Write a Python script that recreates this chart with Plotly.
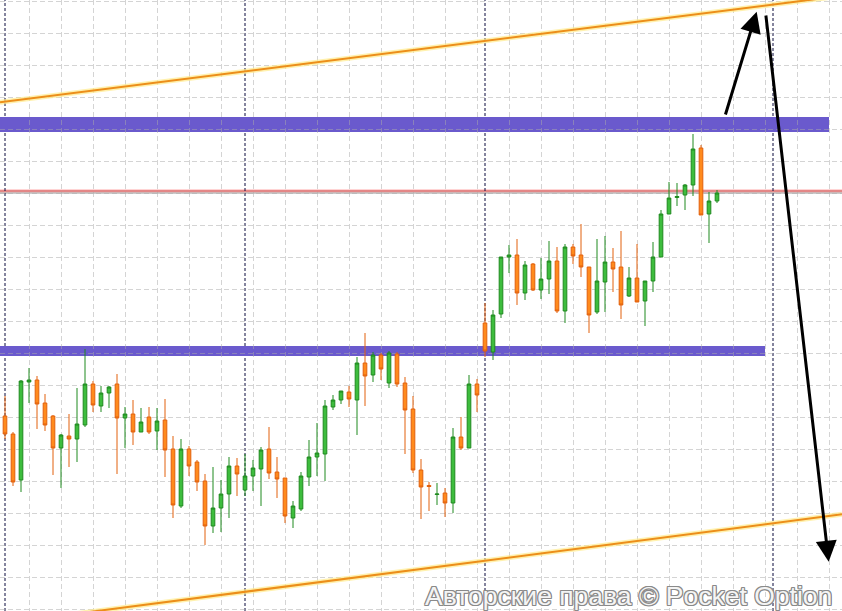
import plotly.graph_objects as go

# ---- candle data (index = bar number, values in chart price units) ----
bar_index = list(range(90))
open_ = [195, 177, 131, 229, 231, 208, 195, 163, 175, 172,
         186, 227, 205, 218, 227, 193, 197, 179, 194, 180,
         191, 162, 105, 162, 149, 130, 85, 103, 117, 145,
         121, 135, 142, 162, 139, 133, 93, 102, 134, 154,
         157, 204, 211, 219, 211, 248, 236, 256, 228, 257,
         228, 202, 141, 125.5, 116.5, 118, 108, 174, 163, 227,
         288, 259, 297, 354, 356, 318, 347, 321, 332, 350,
         300, 364, 356, 344, 299, 329, 349, 344, 315, 333,
         310, 330, 354, 397, 413.5, 416, 426, 463, 397, 410]
high_ = [215, 179, 231, 243, 235, 217, 196, 177, 197, 223,
         262, 230, 225, 225, 237, 204, 211, 203, 204, 203,
         212, 175, 172, 165, 151, 137, 144, 131, 154, 153,
         157, 151, 164, 184, 154, 133, 110, 139, 171, 188,
         211, 216, 220, 225, 254, 278, 259, 258, 260, 259,
         234, 215, 152, 129, 128, 123, 183, 194, 236, 232,
         308, 301, 354, 366, 372, 350, 348, 353, 370, 364,
         367, 367, 387, 344, 372, 375, 363, 380, 344, 367,
         330, 369, 401, 429, 428, 427, 477, 466, 419, 421]
low_ = [172, 125, 119, 208, 182, 180, 136, 123, 144, 149,
        184, 199, 199, 203, 137, 163, 166, 179, 177, 161,
        134, 93, 103, 135, 120, 66, 78, 79, 93, 115,
        115, 120, 105, 132, 113, 88, 83, 100, 125, 135,
        130, 201, 207, 204, 176, 205, 229, 231, 223, 224,
        157, 138, 92, 100, 106, 94, 98, 161, 163, 199,
        254, 251, 293, 338, 306, 311, 320, 312, 317, 298,
        288, 347, 334, 278, 297, 299, 319, 292, 314, 309,
        285, 319, 354, 397, 405, 401, 415, 396, 368, 408]
close_ = [177, 129, 230, 231, 207, 186, 163, 176, 172, 187,
          227, 206, 218, 224, 193, 197, 179, 189, 179, 190,
          161, 106, 162, 145, 129, 85, 103, 117, 145, 137,
          135, 143, 161, 138, 132, 95, 105, 135, 154, 158,
          205, 211, 220, 212, 248, 235, 256, 242, 258, 227,
          201, 141, 124, 124.5, 117, 108, 174, 163, 227, 216,
          260, 296, 354, 356, 318, 346, 321, 332, 350, 300,
          364, 355, 344, 296, 330, 349, 342, 306, 333, 309,
          330, 354, 397, 413, 414.5, 426, 462, 396, 410, 418]

# ---- drawn levels / annotations (price units, bar index) ----
day_breaks = [0, 30, 60, 96]
resistance_zone = [479, 494]      # upper blue band (low, high)
resistance_end = 103
support_zone = [255, 265]         # lower blue band (low, high)
support_end = 95
current_level = 420               # red line
prev_level = 418                  # grey line
channel_upper = [(-0.625, 508.7), (104.625, 615.2)]
channel_lower = [(-0.625, -12.6), (104.625, 96.7)]
arrow_up = [(90, 495), (93.96, 599.3)]       # tail, head
arrow_down = [(95.09, 597), (102.96, 49.3)]  # tail, head
watermark = "Авторские права © Pocket Option"

X_RANGE = [-0.625, 104.625]
Y_RANGE = [0, 611]

fig = go.Figure()

fig.add_trace(go.Candlestick(
    x=bar_index, open=open_, high=high_, low=low_, close=close_,
    increasing=dict(fillcolor="#3dbd3d", line=dict(color="#1f8a1f", width=1)),
    decreasing=dict(fillcolor="#ff8a1c", line=dict(color="#e2600c", width=1)),
    whiskerwidth=0, hoverinfo="skip", showlegend=False,
))

shapes = []
# blue zones
shapes.append(dict(type="rect", xref="x", yref="y", layer="below",
                   x0=X_RANGE[0] - 1, x1=resistance_end,
                   y0=resistance_zone[0], y1=resistance_zone[1],
                   fillcolor="#6a5acd", line=dict(width=0)))
shapes.append(dict(type="rect", xref="x", yref="y", layer="below",
                   x0=X_RANGE[0] - 1, x1=support_end,
                   y0=support_zone[0], y1=support_zone[1],
                   fillcolor="#6a5acd", line=dict(width=0)))
# red / grey horizontal price lines
shapes.append(dict(type="line", xref="paper", yref="y", layer="between",
                   x0=0, x1=1, y0=current_level, y1=current_level,
                   line=dict(color="rgba(255,160,160,0.45)", width=4)))
shapes.append(dict(type="line", xref="paper", yref="y", layer="between",
                   x0=0, x1=1, y0=prev_level, y1=prev_level,
                   line=dict(color="#9a9a9a", width=1)))
shapes.append(dict(type="line", xref="paper", yref="y", layer="between",
                   x0=0, x1=1, y0=current_level, y1=current_level,
                   line=dict(color="#c83a3a", width=1)))
# day separators
for d in day_breaks:
    shapes.append(dict(type="line", xref="x", yref="paper", layer="below",
                       x0=d, x1=d, y0=0, y1=1,
                       line=dict(color="#0a0a3c", width=1, dash="3px,2px")))
# channel lines (halo + line)
for ch in (channel_upper, channel_lower):
    (xa, ya), (xb, yb) = ch
    shapes.append(dict(type="line", xref="x", yref="y", layer="above",
                       x0=xa, y0=ya, x1=xb, y1=yb,
                       line=dict(color="rgba(255,235,140,0.7)", width=5)))
    shapes.append(dict(type="line", xref="x", yref="y", layer="above",
                       x0=xa, y0=ya, x1=xb, y1=yb,
                       line=dict(color="#ec8e1a", width=2)))

annotations = []
for (tx, ty), (hx, hy) in (arrow_up, arrow_down):
    annotations.append(dict(
        x=hx, y=hy, ax=tx, ay=ty, xref="x", yref="y", axref="x", ayref="y",
        text="", showarrow=True, arrowhead=2, arrowsize=1.4, arrowwidth=3,
        arrowcolor="#000000", standoff=0, startstandoff=0))

annotations.append(dict(
    text=watermark, xref="paper", yref="paper",
    x=834 / 842, y=0.025, xanchor="right", yanchor="middle",
    showarrow=False,
    font=dict(family="Liberation Sans, Arial, sans-serif", size=26.5,
              color="#f4f4f4",
              shadow="1px 1px 0 #8a8a8a, -1px -1px 0 #8a8a8a, "
                     "1px -1px 0 #8a8a8a, -1px 1px 0 #8a8a8a, "
                     "0 1px 0 #8a8a8a, 0 -1px 0 #8a8a8a, "
                     "1px 0 0 #8a8a8a, -1px 0 0 #8a8a8a"),
))

fig.update_layout(
    width=842, height=611,
    margin=dict(l=0, r=0, t=0, b=0),
    paper_bgcolor="white", plot_bgcolor="white",
    showlegend=False,
    boxgap=0.35,
    shapes=shapes,
    annotations=annotations,
    hovermode=False,
)
grid_col = "rgba(170,170,170,0.5)"
fig.update_xaxes(range=X_RANGE, showticklabels=False, ticks="",
                 showgrid=True, gridcolor=grid_col, griddash="5px,3px", gridwidth=1,
                 tick0=3.0375, dtick=4, zeroline=False, showline=False,
                 rangeslider=dict(visible=False), fixedrange=True)
fig.update_yaxes(range=Y_RANGE, showticklabels=False, ticks="",
                 showgrid=True, gridcolor=grid_col, griddash="5px,3px", gridwidth=1,
                 tick0=1.7, dtick=32, zeroline=False, showline=False,
                 fixedrange=True)

fig.write_html(
    "out.html",
    config={"displayModeBar": False},
    post_script="document.body.style.margin='0';document.body.style.padding='0';"
                "document.body.style.overflow='hidden';",
)
